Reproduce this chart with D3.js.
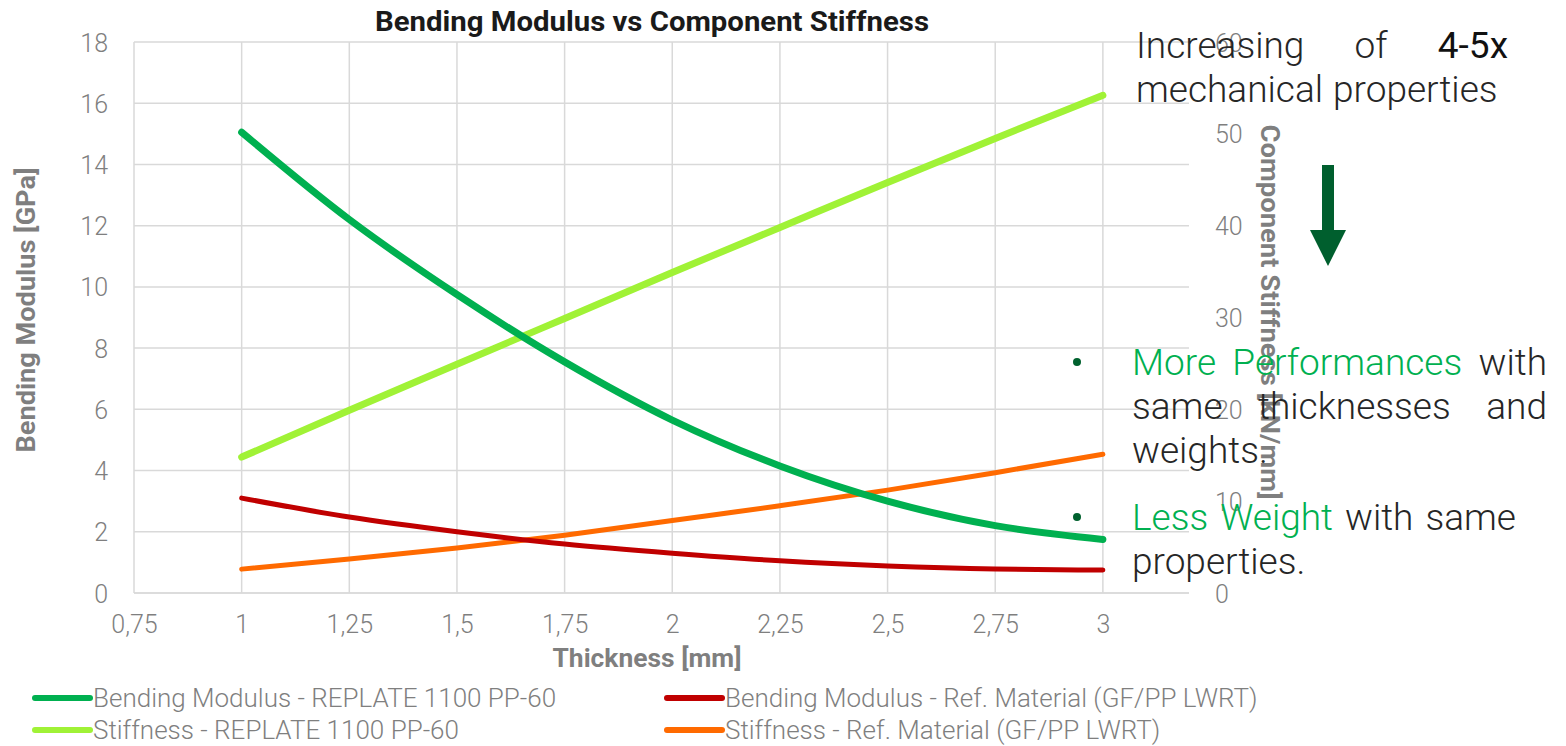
<!DOCTYPE html>
<html>
<head>
<meta charset="utf-8">
<script src="https://cdn.jsdelivr.net/npm/d3@7"></script>
<style>
  body { margin: 0; background: #fff; }
  svg text { font-family: Roboto, "Noto Sans", sans-serif; }
</style>
</head>
<body>
<div class="chart"></div>
<script>
// values
var thickness = [1, 1.25, 1.5, 1.75, 2, 2.25, 2.5, 2.75, 3];
var modulusReplate = [15.05, 12.2, 9.75, 7.55, 5.65, 4.15, 3.0, 2.2, 1.75];
var modulusRef = [3.1, 2.48, 2.0, 1.6, 1.3, 1.05, 0.88, 0.78, 0.75];
var stiffnessReplate = [14.8, 19.9, 24.9, 29.9, 34.9, 39.8, 44.7, 49.5, 54.2];
var stiffnessRef = [2.6, 3.7, 4.9, 6.3, 7.9, 9.5, 11.2, 13.1, 15.1];

var xTicks = [0.75, 1, 1.25, 1.5, 1.75, 2, 2.25, 2.5, 2.75, 3];
var leftTicks = [0, 2, 4, 6, 8, 10, 12, 14, 16, 18];
var rightTicks = [0, 10, 20, 30, 40, 50, 60];

var seriesNames = [
  "Bending Modulus - REPLATE 1100 PP-60",
  "Stiffness - REPLATE 1100 PP-60",
  "Bending Modulus - Ref. Material (GF/PP LWRT)",
  "Stiffness - Ref. Material (GF/PP LWRT)"
];

var noteHead = [
  [["Increasing", "n"], ["of", "n"], ["4-5x", "b"]],
  [["mechanical", "n"], ["properties", "n"]]
];
var noteBullets = [
  [
    [["More", "g"], ["Performances", "g"], ["with", "n"]],
    [["same", "n"], ["thicknesses", "n"], ["and", "n"]],
    [["weights.", "n"]]
  ],
  [
    [["Less", "g"], ["Weight", "g"], ["with", "n"], ["same", "n"]],
    [["properties.", "n"]]
  ]
];

var W = 1566, H = 746;
var plot = {left: 134, right: 1189, top: 42, bottom: 593};

var svg = d3.select(".chart").append("svg")
    .attr("width", W)
    .attr("height", H);

var x = d3.scaleLinear().domain([0.75, 3.2]).range([plot.left, plot.right]);
var yL = d3.scaleLinear().domain([0, 18]).range([plot.bottom, plot.top]);
var yR = d3.scaleLinear().domain([0, 60]).range([plot.bottom, plot.top]);

// grid
svg.append("g")
  .selectAll("line")
  .data(leftTicks)
  .enter().append("line")
    .attr("x1", plot.left).attr("x2", plot.right)
    .attr("y1", function (d) { return yL(d); })
    .attr("y2", function (d) { return yL(d); })
    .style("stroke", function (d) { return d === 0 ? "#d0d0d0" : "#d9d9d9"; })
    .style("stroke-width", 1.5);

svg.append("g")
  .selectAll("line")
  .data(xTicks)
  .enter().append("line")
    .attr("x1", function (d) { return x(d); })
    .attr("x2", function (d) { return x(d); })
    .attr("y1", plot.top).attr("y2", plot.bottom)
    .style("stroke", "#d9d9d9")
    .style("stroke-width", 1.5);

// axes, drawn with d3 axis then stripped of domain/ticks
var xAxis = d3.axisBottom(x).tickValues(xTicks).tickSize(0).tickPadding(22)
    .tickFormat(function (d) { return String(d).replace(".", ","); });
var gx = svg.append("g")
    .attr("transform", "translate(0," + plot.bottom + ")")
    .call(xAxis);

var gl = svg.append("g")
    .attr("transform", "translate(" + plot.left + ",0)")
    .call(d3.axisLeft(yL).tickValues(leftTicks).tickSize(0).tickPadding(26));

var gr = svg.append("g")
    .attr("transform", "translate(" + plot.right + ",0)")
    .call(d3.axisRight(yR).tickValues(rightTicks).tickSize(0).tickPadding(26));

[gx, gl, gr].forEach(function (g) {
  g.select(".domain").remove();
  g.selectAll("text")
    .attr("font-family", "Roboto, sans-serif")
    .style("font-size", "25px")
    .style("font-weight", 300)
    .style("fill", "#7f7f7f");
});
gx.selectAll("text").attr("dy", "0.71em");
gl.selectAll("text").attr("dy", "0.36em");
gr.selectAll("text").attr("dy", "0.36em");

// titles
svg.append("text")
  .attr("x", 652).attr("y", 31)
  .attr("text-anchor", "middle")
  .attr("textLength", 554)
  .attr("lengthAdjust", "spacingAndGlyphs")
  .style("font-size", "28px").style("font-weight", 700)
  .style("fill", "#1a1a1a")
  .text("Bending Modulus vs Component Stiffness");

svg.append("text")
  .attr("x", 647).attr("y", 667)
  .attr("text-anchor", "middle")
  .attr("textLength", 189)
  .attr("lengthAdjust", "spacingAndGlyphs")
  .style("font-size", "26px").style("font-weight", 700)
  .style("fill", "#7f7f7f")
  .text("Thickness [mm]");

svg.append("text")
  .attr("transform", "translate(35,310) rotate(-90)")
  .attr("text-anchor", "middle")
  .attr("textLength", 285)
  .attr("lengthAdjust", "spacingAndGlyphs")
  .style("font-size", "25px").style("font-weight", 700)
  .style("fill", "#7f7f7f")
  .text("Bending Modulus [GPa]");

svg.append("text")
  .attr("transform", "translate(1261,312) rotate(90)")
  .attr("text-anchor", "middle")
  .attr("textLength", 375)
  .attr("lengthAdjust", "spacingAndGlyphs")
  .style("font-size", "25px").style("font-weight", 700)
  .style("fill", "#7f7f7f")
  .text("Component Stiffness [kN/mm]");

// series
var series = [
  {name: seriesNames[3], values: stiffnessRef, scale: yR, color: "#ff6a00", width: 5},
  {name: seriesNames[2], values: modulusRef, scale: yL, color: "#c00000", width: 5},
  {name: seriesNames[1], values: stiffnessReplate, scale: yR, color: "#a0f236", width: 7},
  {name: seriesNames[0], values: modulusReplate, scale: yL, color: "#00b050", width: 7}
];

series.forEach(function (s) {
  var line = d3.line()
      .curve(d3.curveMonotoneX)
      .x(function (d, i) { return x(thickness[i]); })
      .y(function (d) { return s.scale(d); });
  svg.append("path")
    .datum(s.values)
    .attr("d", line)
    .style("fill", "none")
    .style("stroke", s.color)
    .style("stroke-width", s.width)
    .style("stroke-linecap", "round")
    .style("stroke-linejoin", "round");
});

// legend: column 1 REPLATE, column 2 reference material
var legendOrder = [series[3], series[2], series[1], series[0]];
var legend = svg.selectAll(".legend")
    .data(legendOrder)
    .enter().append("g")
    .attr("class", "legend")
    .attr("transform", function (d, i) {
      var col = i < 2 ? 0 : 1, row = i % 2;
      return "translate(" + (col === 0 ? 35 : 667) + "," + (698 + row * 32) + ")";
    });

legend.append("line")
  .attr("x1", 0).attr("x2", 55)
  .style("stroke", function (d) { return d.color; })
  .style("stroke-width", 6)
  .style("stroke-linecap", "round");

legend.append("text")
  .attr("x", 58).attr("y", 9)
  .style("font-size", "26px").style("font-weight", 300)
  .style("fill", "#7f7f7f")
  .text(function (d) { return d.name; });

// arrow
svg.append("path")
  .attr("d", "M1322,165 L1334,165 L1334,230 L1346,230 L1328,266 L1310,230 L1322,230 Z")
  .style("fill", "#005f2e");

// note text, justified by hand
var wordColor = {n: "#262626", g: "#00b050", b: "#111"};

function drawLine(words, x0, x1, y, justify) {
  var t = svg.append("text").attr("y", y)
      .style("font-size", "37px").style("font-weight", 300);
  var spans = words.map(function (w) {
    return t.append("tspan")
      .style("fill", wordColor[w[1]])
      .style("font-weight", w[1] === "b" ? 400 : 300)
      .text(w[0]);
  });
  var widths = spans.map(function (s) { return s.node().getComputedTextLength(); });
  var total = d3.sum(widths);
  var gap = justify && words.length > 1 ? (x1 - x0 - total) / (words.length - 1) : 10;
  var cx = x0;
  spans.forEach(function (s, i) {
    s.attr("x", cx);
    cx += widths[i] + gap;
  });
}

drawLine(noteHead[0], 1136, 1508, 58, true);
drawLine(noteHead[1], 1136, 1508, 102, false);

var bulletTop = [375, 530];
noteBullets.forEach(function (para, p) {
  svg.append("circle")
    .attr("cx", 1077).attr("cy", bulletTop[p] - 13)
    .attr("r", 4)
    .style("fill", "#00612e");
  para.forEach(function (words, i) {
    var last = i === para.length - 1;
    var justify = !last;
    var x1 = p === 1 && i === 0 ? 1516 : 1547;
    drawLine(words, 1132, x1, bulletTop[p] + i * 44, justify);
  });
});
</script>
</body>
</html>
